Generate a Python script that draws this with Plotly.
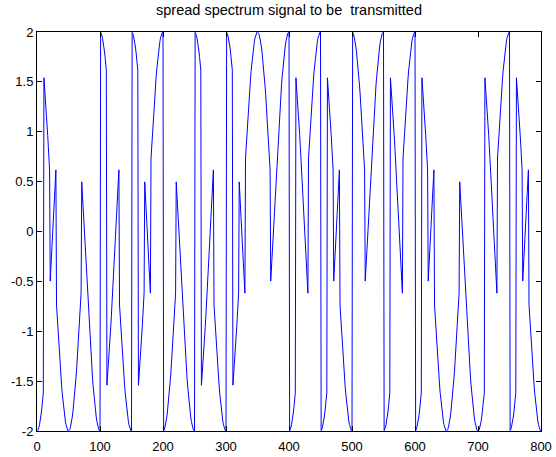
import numpy as np
import plotly.graph_objects as go

# Spreading chips (+1 / -1), ten samples per chip, one row per carrier period
chips = [
    -1, +1, -1, +1, +1, +1, +1, -1, -1, -1,
    +1, -1, -1, +1, +1, -1, +1, -1, +1, +1,
    -1, -1, +1, +1, +1, -1, +1, +1, -1, -1,
    +1, -1, +1, -1, -1, -1, -1, +1, +1, +1,
    -1, +1, +1, -1, -1, +1, -1, +1, -1, -1,
    +1, +1, -1, -1, -1, +1, -1, -1, +1, +1,
    -1, +1, -1, +1, +1, +1, +1, -1, -1, -1,
    -1, +1, +1, -1, -1, +1, -1, +1, -1, -1,
]
samples_per_chip = 10
carrier_amplitude = 2.0
carrier_period = 100  # samples

x_ticks = [0, 100, 200, 300, 400, 500, 600, 700, 800]
y_ticks = [-2, -1.5, -1, -0.5, 0, 0.5, 1, 1.5, 2]
y_tick_text = ["-2", "-1.5", "-1", "-0.5", "0", "0.5", "1", "1.5", "2"]

# BPSK carrier multiplied by the chip sequence
n = np.arange(1, len(chips) * samples_per_chip + 1)
carrier = carrier_amplitude * np.cos(2 * np.pi * n / carrier_period)
signal = carrier * np.repeat(chips, samples_per_chip)

fig = go.Figure(
    go.Scatter(x=n, y=signal, mode="lines",
               line=dict(color="#0000ff", width=1),
               hoverinfo="skip", showlegend=False)
)

axis_style = dict(
    showgrid=False, zeroline=False, showline=True, linecolor="black",
    linewidth=1, mirror="allticks", ticks="inside", ticklen=5,
    tickcolor="black", tickwidth=1, automargin=False,
)

fig.update_layout(
    width=556, height=457,
    margin=dict(l=37, r=15, t=32, b=26, autoexpand=False),
    paper_bgcolor="white", plot_bgcolor="white",
    font=dict(family="Liberation Sans, Arial, sans-serif", size=13, color="black"),
    title=dict(text="spread spectrum signal to be\u00a0 transmitted",
               x=0.5, xref="paper", xanchor="center",
               y=1 - 10 / 457, yref="container", yanchor="middle",
               font=dict(size=14.5)),
    xaxis=dict(range=[0, 800], tickvals=x_ticks, ticklabelstandoff=3, **axis_style),
    yaxis=dict(range=[-2, 2], tickvals=y_ticks, ticktext=y_tick_text, **axis_style),
)

fig.write_html("out.html")
